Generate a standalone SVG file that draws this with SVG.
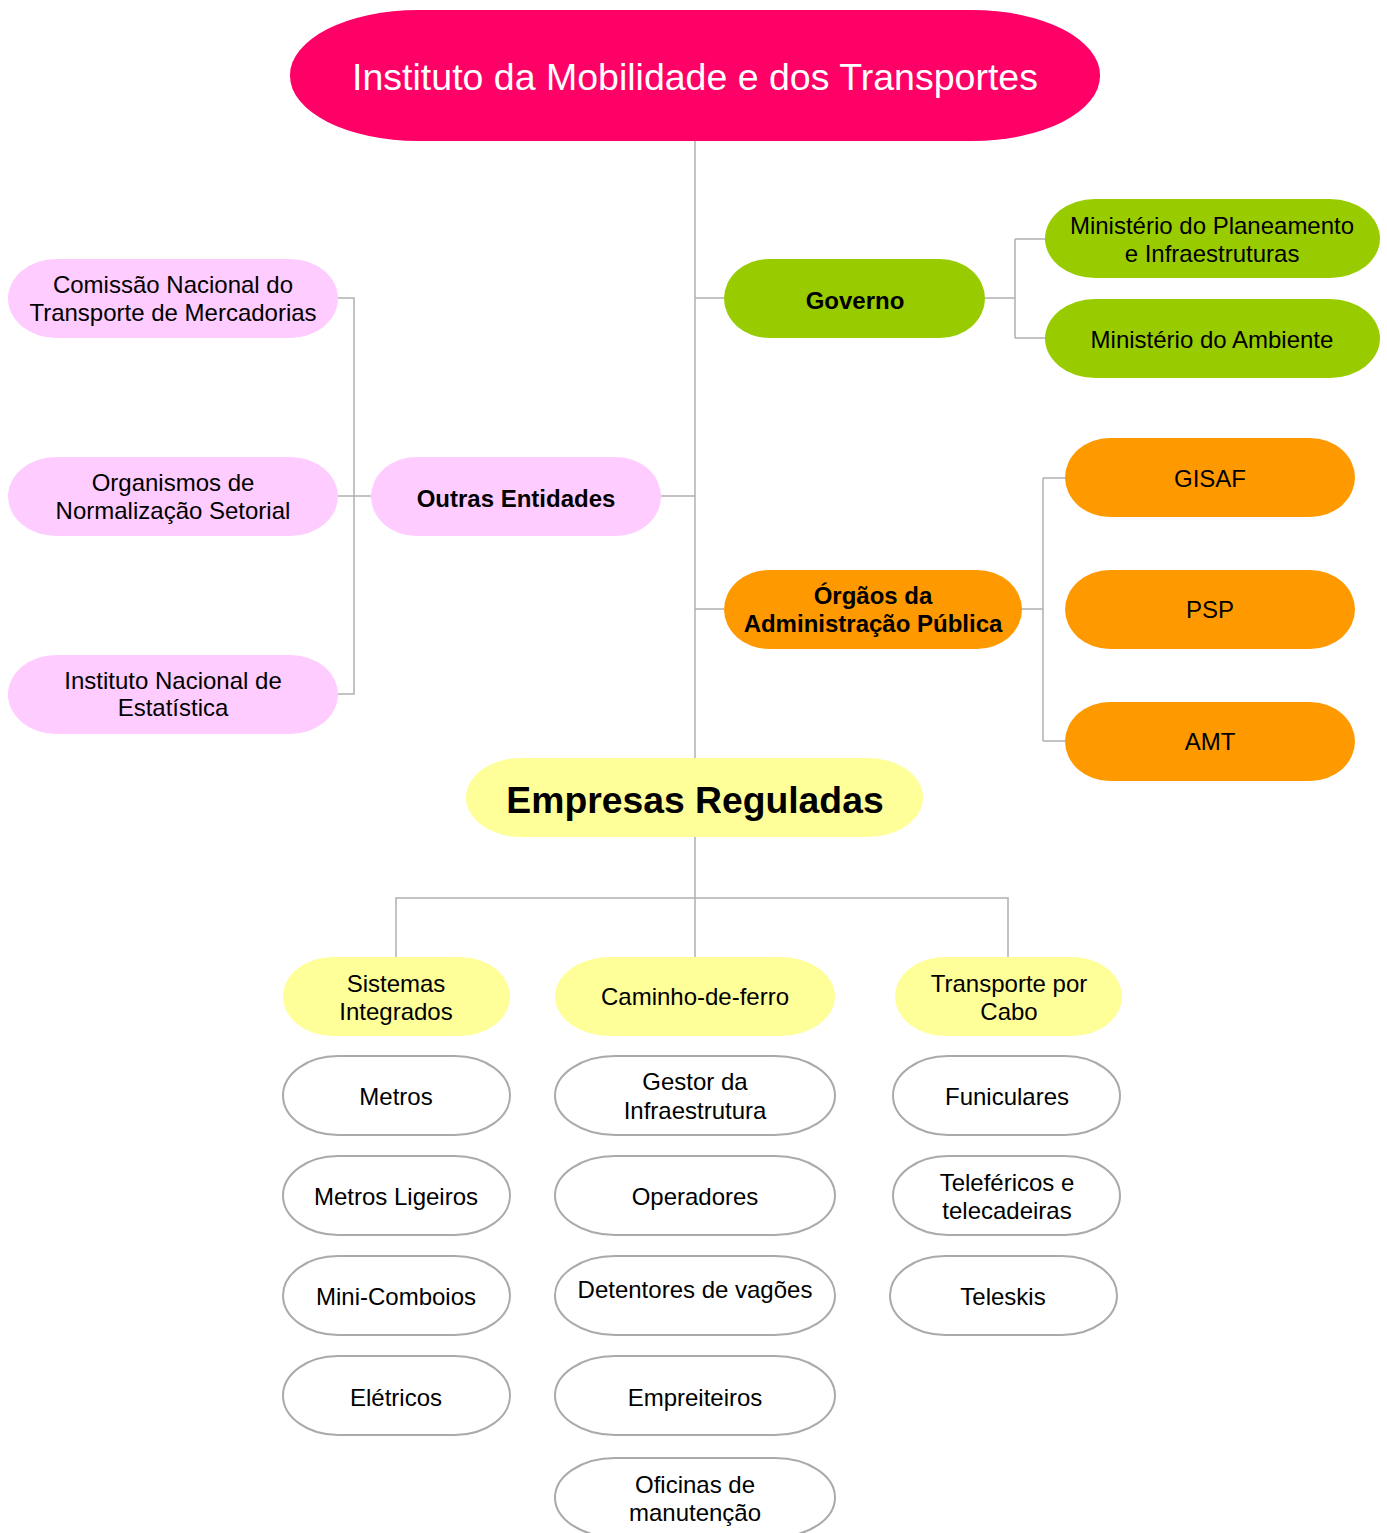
<svg xmlns="http://www.w3.org/2000/svg" width="1387" height="1533" viewBox="0 0 1387 1533">
<style>
text{font-family:"Liberation Sans",Arial,sans-serif;font-size:24px;fill:#000;text-anchor:middle;dominant-baseline:central}
.b{font-weight:bold}
.lines path{fill:none;stroke:#b0b0b0;stroke-width:1.5}
.pk{fill:#FFCCFF}.gr{fill:#99CC00}.or{fill:#FF9900}.ye{fill:#FFFF99}
.wh{fill:#fff;stroke:#aaaaaa;stroke-width:2}
</style>
<rect width="1387" height="1533" fill="#fff"/>
<g class="lines">
<path d="M695 141V758"/>
<path d="M695 298H724M985 298H1015M1015 239V338M1015 239H1045M1015 338H1045"/>
<path d="M661 496H695M338 298H354V694H338M338 496H371"/>
<path d="M695 609H724M1022 609H1043M1043 478V741M1043 478H1065M1043 741H1065"/>
<path d="M695 837V957M396 957V898H1008V957"/>
</g>
<g id="root"><rect x="290" y="10" width="810" height="131" rx="128" ry="65" fill="#FF0066"/><text x="695" y="77" style="font-size:37.5px;fill:#fff">Instituto da Mobilidade e dos Transportes</text></g>
<g id="governo"><rect class="gr" x="724" y="259" width="261" height="79" rx="45" ry="40"/><text class="b" x="855" y="300">Governo</text></g>
<g id="min-plan"><rect class="gr" x="1045" y="199" width="335" height="79" rx="50" ry="40"/><text x="1212" y="225">Ministério do Planeamento</text><text x="1212" y="253">e Infraestruturas</text></g>
<g id="min-amb"><rect class="gr" x="1045" y="299" width="335" height="79" rx="50" ry="40"/><text x="1212" y="339">Ministério do Ambiente</text></g>
<g id="outras"><rect class="pk" x="371" y="457" width="290" height="79" rx="45" ry="40"/><text class="b" x="516" y="498">Outras Entidades</text></g>
<g id="cntm"><rect class="pk" x="8" y="259" width="330" height="79" rx="48" ry="40"/><text x="173" y="284">Comissão Nacional do</text><text x="173" y="312">Transporte de Mercadorias</text></g>
<g id="ons"><rect class="pk" x="8" y="457" width="330" height="79" rx="48" ry="40"/><text x="173" y="482">Organismos de</text><text x="173" y="510">Normalização Setorial</text></g>
<g id="ine"><rect class="pk" x="8" y="655" width="330" height="79" rx="48" ry="40"/><text x="173" y="680">Instituto Nacional de</text><text x="173" y="707">Estatística</text></g>
<g id="orgaos"><rect class="or" x="724" y="570" width="298" height="79" rx="45" ry="40"/><text class="b" x="873" y="595">Órgãos da</text><text class="b" x="873" y="623">Administração Pública</text></g>
<g id="gisaf"><rect class="or" x="1065" y="438" width="290" height="79" rx="45" ry="40"/><text x="1210" y="478">GISAF</text></g>
<g id="psp"><rect class="or" x="1065" y="570" width="290" height="79" rx="45" ry="40"/><text x="1210" y="609">PSP</text></g>
<g id="amt"><rect class="or" x="1065" y="702" width="290" height="79" rx="45" ry="40"/><text x="1210" y="741">AMT</text></g>
<g id="empresas"><rect class="ye" x="466" y="758" width="457" height="79" rx="55" ry="40"/><text class="b" x="695" y="800" style="font-size:37.3px">Empresas Reguladas</text></g>
<g id="sistemas"><rect class="ye" x="283" y="957" width="227" height="79" rx="50" ry="40"/><text x="396" y="983">Sistemas</text><text x="396" y="1011">Integrados</text></g>
<g id="caminho"><rect class="ye" x="555" y="957" width="280" height="79" rx="55" ry="40"/><text x="695" y="996">Caminho-de-ferro</text></g>
<g id="cabo"><rect class="ye" x="895" y="957" width="227" height="79" rx="50" ry="40"/><text x="1009" y="983">Transporte por</text><text x="1009" y="1011">Cabo</text></g>
<g id="metros"><rect class="wh" x="283" y="1056" width="227" height="79" rx="55" ry="40"/><text x="396" y="1096">Metros</text></g>
<g id="metros-ligeiros"><rect class="wh" x="283" y="1156" width="227" height="79" rx="55" ry="40"/><text x="396" y="1196">Metros Ligeiros</text></g>
<g id="mini-comboios"><rect class="wh" x="283" y="1256" width="227" height="79" rx="55" ry="40"/><text x="396" y="1296">Mini-Comboios</text></g>
<g id="eletricos"><rect class="wh" x="283" y="1356" width="227" height="79" rx="55" ry="40"/><text x="396" y="1397">Elétricos</text></g>
<g id="gestor"><rect class="wh" x="555" y="1056" width="280" height="79" rx="60" ry="40"/><text x="695" y="1081">Gestor da</text><text x="695" y="1110">Infraestrutura</text></g>
<g id="operadores"><rect class="wh" x="555" y="1156" width="280" height="79" rx="60" ry="40"/><text x="695" y="1196">Operadores</text></g>
<g id="detentores"><rect class="wh" x="555" y="1256" width="280" height="79" rx="60" ry="40"/><text x="695" y="1289">Detentores de vagões</text></g>
<g id="empreiteiros"><rect class="wh" x="555" y="1356" width="280" height="79" rx="60" ry="40"/><text x="695" y="1397">Empreiteiros</text></g>
<g id="oficinas"><rect class="wh" x="555" y="1458" width="280" height="79" rx="60" ry="40"/><text x="695" y="1484">Oficinas de</text><text x="695" y="1512">manutenção</text></g>
<g id="funiculares"><rect class="wh" x="893" y="1056" width="227" height="79" rx="55" ry="40"/><text x="1007" y="1096">Funiculares</text></g>
<g id="telefericos"><rect class="wh" x="893" y="1156" width="227" height="79" rx="55" ry="40"/><text x="1007" y="1182">Teleféricos e</text><text x="1007" y="1210">telecadeiras</text></g>
<g id="teleskis"><rect class="wh" x="890" y="1256" width="227" height="79" rx="55" ry="40"/><text x="1003" y="1296">Teleskis</text></g>
</svg>
